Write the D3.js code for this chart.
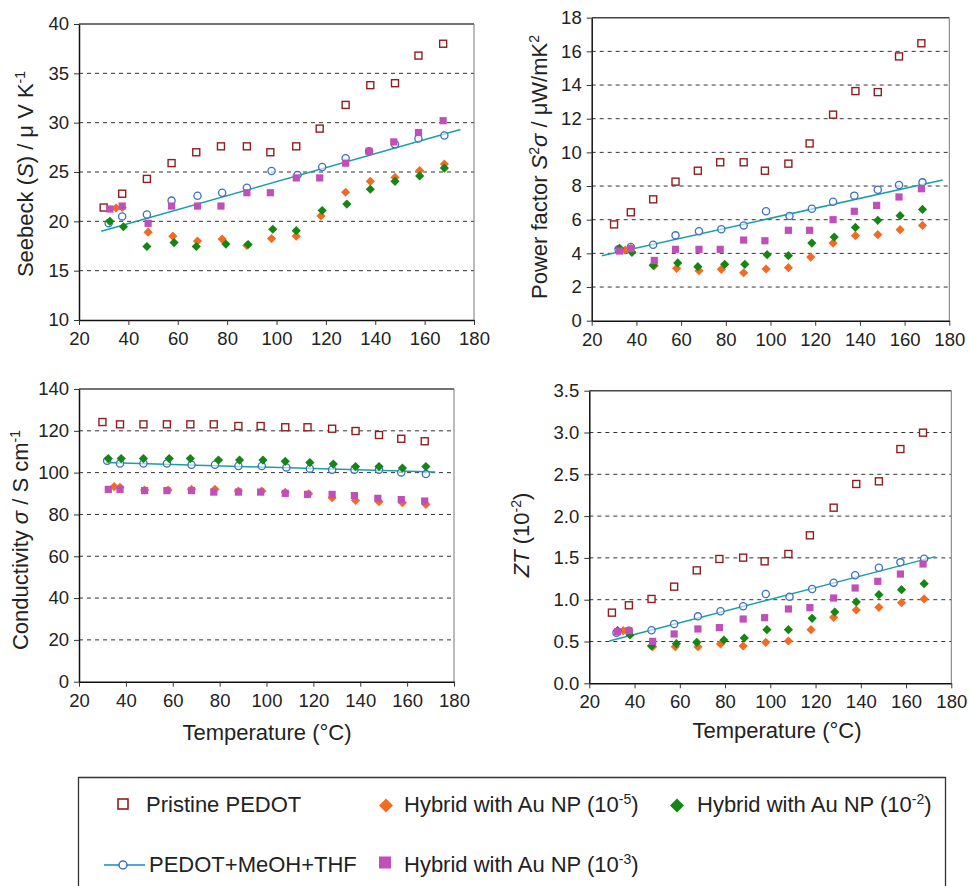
<!DOCTYPE html>
<html>
<head>
<meta charset="utf-8">
<script src="https://cdn.jsdelivr.net/npm/d3@7"></script>
<style>
  body { margin: 0; background: #fff; }
  svg { font-family: "Liberation Sans", Arial, Helvetica, sans-serif; }
</style>
</head>
<body>
<div id="chart"></div>
<script>
// temperatures (°C) for each sample series
var tPristine = [30, 37.5, 47.5, 57.5, 67.5, 77.5, 88, 97.5, 108, 117.5, 128, 138, 148, 157.5, 167.5];
var tMeoh     = [32, 37.5, 47.5, 57.5, 68, 78, 88, 98, 108.5, 118.5, 128, 137.5, 148, 157.5, 168];
var tAu5      = [35, 37.5, 48, 58, 68, 78, 88, 98, 108, 118, 128, 138, 148, 158, 168];
var tAu3      = [32.5, 37.5, 48, 57.5, 68, 77.5, 88, 97.5, 108, 117.5, 128, 137.5, 147.5, 157.5, 167.5];
var tAu2      = [32.5, 38, 47.5, 58.5, 67.5, 79.5, 88.5, 98.5, 108, 118.5, 128.5, 138, 148, 158, 168];

// Seebeck (uV/K)
var sPristine = [21.4, 22.8, 24.3, 25.9, 27.0, 27.6, 27.6, 27.0, 27.6, 29.4, 31.8, 33.8, 34.0, 36.8, 38.0];
var sMeoh     = [19.8, 20.5, 20.7, 22.1, 22.6, 22.9, 23.4, 25.1, 24.7, 25.5, 26.4, 27.1, 27.8, 28.4, 28.7];
var sAu5      = [21.35, 21.4, 18.9, 18.5, 18.0, 18.2, 17.55, 18.25, 18.5, 20.55, 22.95, 24.05, 24.45, 25.15, 25.8];
var sAu3      = [21.25, 21.55, 19.8, 21.55, 21.55, 21.55, 22.9, 22.9, 24.4, 24.4, 25.9, 27.1, 28.05, 29.0, 30.2];
var sAu2      = [20.0, 19.45, 17.45, 17.85, 17.45, 17.7, 17.65, 19.2, 19.05, 21.1, 21.75, 23.25, 24.05, 24.6, 25.4];
var sFitT = [29, 174.5], sFitV = [19.0, 29.3];

// power factor (uW/mK2)
var pPristine = [5.72, 6.44, 7.21, 8.26, 8.91, 9.41, 9.41, 8.91, 9.33, 10.53, 12.24, 13.64, 13.58, 15.70, 16.48];
var pMeoh     = [4.25, 4.38, 4.51, 5.07, 5.31, 5.43, 5.66, 6.50, 6.22, 6.65, 7.07, 7.43, 7.78, 8.06, 8.22];
var pAu5      = [4.2, 4.3, 3.27, 3.11, 2.97, 3.05, 2.85, 3.07, 3.15, 3.78, 4.61, 5.05, 5.11, 5.41, 5.66];
var pAu3      = [4.14, 4.28, 3.58, 4.24, 4.24, 4.24, 4.79, 4.75, 5.37, 5.37, 6.0, 6.50, 6.85, 7.35, 7.84];
var pAu2      = [4.30, 4.06, 3.29, 3.43, 3.21, 3.35, 3.35, 3.92, 3.86, 4.61, 4.97, 5.54, 5.96, 6.24, 6.61];
var pFitT = [24.5, 177], pFitV = [3.86, 8.36];

// conductivity (S/cm)
var cPristine = [124.2, 123.1, 123.1, 123.1, 123.1, 123.1, 122.3, 122.3, 121.7, 121.7, 121.0, 119.9, 118.0, 116.2, 115.0];
var cMeoh     = [105.7, 104.4, 104.4, 104.4, 103.8, 103.8, 103.2, 103.2, 102.5, 101.9, 101.4, 101.4, 101.4, 100.1, 99.3];
var cAu5      = [93.3, 93.0, 91.7, 91.7, 92.0, 92.0, 91.2, 91.2, 90.6, 89.9, 88.0, 86.7, 86.1, 85.6, 84.8];
var cAu3      = [92.0, 92.0, 91.4, 91.4, 91.4, 90.7, 90.7, 90.7, 90.1, 89.6, 89.6, 89.0, 87.7, 87.1, 86.4];
var cAu2      = [106.7, 106.7, 106.7, 106.7, 106.7, 106.0, 106.0, 106.0, 105.4, 104.8, 104.1, 102.9, 102.9, 102.2, 102.9];
var cFitT = [31.5, 172], cFitV = [104.8, 100.3];

// ZT (10^-2)
var zPristine = [0.845, 0.933, 1.009, 1.156, 1.351, 1.487, 1.503, 1.459, 1.547, 1.770, 2.101, 2.384, 2.416, 2.802, 2.998];
var zMeoh     = [0.606, 0.63, 0.634, 0.710, 0.801, 0.861, 0.921, 1.068, 1.036, 1.128, 1.204, 1.292, 1.383, 1.447, 1.491];
var zAu5      = [0.63, 0.626, 0.438, 0.438, 0.438, 0.47, 0.446, 0.49, 0.506, 0.642, 0.789, 0.877, 0.909, 0.965, 1.009];
var zAu3      = [0.618, 0.63, 0.502, 0.59, 0.65, 0.666, 0.769, 0.785, 0.889, 0.905, 1.02, 1.14, 1.22, 1.307, 1.427];
var zAu2      = [0.63, 0.578, 0.446, 0.474, 0.49, 0.518, 0.542, 0.642, 0.642, 0.777, 0.853, 0.973, 1.06, 1.12, 1.192];
var zFitT = [28.8, 173], zFitV = [0.506, 1.515];

var xTicks = [20, 40, 60, 80, 100, 120, 140, 160, 180];
var legendNames = ["Pristine PEDOT", "PEDOT+MeOH+THF", "Hybrid with Au NP (10", "Hybrid with Au NP (10", "Hybrid with Au NP (10"];
var legendExp = ["", "", "-5", "-3", "-2"];

var W = 969, H = 886;
var col = {pristine: "#8e1f1f", meoh: "#3d6fc2", fit: "#1a9fa6", au5: "#f36b22", au3: "#c14fba", au2: "#138613"};

var svg = d3.select("#chart").append("svg").attr("width", W).attr("height", H);

var panels = [
  {x0: 79, x1: 474, y0: 24, y1: 320, dom: [10, 40], ticks: [10, 15, 20, 25, 30, 35, 40], fmt: d3.format("d"),
   data: [sPristine, sMeoh, sAu5, sAu3, sAu2], fitT: sFitT, fitV: sFitV,
   lx: 33, ly: 174, label: [["Seebeck (", ""], ["S", "i"], [") / \u03bc V K", ""], ["-1", "sup"]], xt: false},
  {x0: 591.7, x1: 949.3, y0: 17.7, y1: 320.7, dom: [0, 18], ticks: [0, 2, 4, 6, 8, 10, 12, 14, 16, 18], fmt: d3.format("d"),
   data: [pPristine, pMeoh, pAu5, pAu3, pAu2], fitT: pFitT, fitV: pFitV,
   lx: 547, ly: 167, label: [["Power factor  ", ""], ["S", "i"], ["2", "sup"], ["\u03c3", "i"], [" / \u03bcW/mK", ""], ["2", "sup"]], xt: false},
  {x0: 79, x1: 454, y0: 389, y1: 681.7, dom: [0, 140], ticks: [0, 20, 40, 60, 80, 100, 120, 140], fmt: d3.format("d"),
   data: [cPristine, cMeoh, cAu5, cAu3, cAu2], fitT: cFitT, fitV: cFitV,
   lx: 28, ly: 540, label: [["Conductivity ", ""], ["\u03c3", "i"], [" / S cm", ""], ["-1", "sup"]], xt: true, xtx: 267, xty: 740},
  {x0: 589.3, x1: 951.3, y0: 390.7, y1: 683.3, dom: [0, 3.5], ticks: [0, 0.5, 1, 1.5, 2, 2.5, 3, 3.5], fmt: d3.format(".1f"),
   data: [zPristine, zMeoh, zAu5, zAu3, zAu2], fitT: zFitT, fitV: zFitV,
   lx: 529, ly: 535, label: [["ZT", "i"], [" (10", ""], ["-2", "sup"], [")", ""]], xt: true, xtx: 777, xty: 738}
];

var temps = [tPristine, tMeoh, tAu5, tAu3, tAu2];

function diamond(g, x, y, r, fill) {
  g.append("path").attr("d", "M" + x + "," + (y - r) + "L" + (x + r) + "," + y + "L" + x + "," + (y + r) + "L" + (x - r) + "," + y + "Z")
    .attr("fill", fill);
}

panels.forEach(function(p) {
  var x = d3.scaleLinear().domain([20, 180]).range([p.x0, p.x1]);
  var y = d3.scaleLinear().domain(p.dom).range([p.y1, p.y0]);
  var g = svg.append("g");

  // dashed grid
  g.selectAll(".grid").data(p.ticks.slice(1, -1)).enter().append("line")
    .attr("x1", p.x0).attr("x2", p.x1)
    .attr("y1", function(d){ return y(d); }).attr("y2", function(d){ return y(d); })
    .attr("stroke", "#333").attr("stroke-dasharray", "4,4").attr("stroke-width", 1);
  // frame top/right
  g.append("line").attr("x1", p.x0).attr("x2", p.x1).attr("y1", p.y0).attr("y2", p.y0).attr("stroke", "#444").attr("stroke-width", 1.5);
  g.append("line").attr("x1", p.x1).attr("x2", p.x1).attr("y1", p.y0).attr("y2", p.y1).attr("stroke", "#777").attr("stroke-width", 1);

  var ya = g.append("g").attr("transform", "translate(" + p.x0 + ",0)")
    .call(d3.axisLeft(y).tickValues(p.ticks).tickFormat(p.fmt).tickSize(5).tickPadding(5).tickSizeOuter(0));
  var xa = g.append("g").attr("transform", "translate(0," + p.y1 + ")")
    .call(d3.axisBottom(x).tickValues(xTicks).tickFormat(d3.format("d")).tickSize(5).tickPadding(7).tickSizeOuter(0));
  [ya, xa].forEach(function(a) {
    a.select(".domain").attr("stroke", "#111").attr("stroke-width", 1.5);
    a.selectAll("text").attr("font-size", 18.5).attr("fill", "#222").attr("font-family", null);
    a.selectAll(".tick line").attr("stroke", "#333");
  });

  // y label
  var t = g.append("text").attr("transform", "translate(" + p.lx + "," + p.ly + ") rotate(-90)")
    .attr("text-anchor", "middle").attr("font-size", 22).attr("fill", "#222");
  p.label.forEach(function(s) {
    var ts = t.append("tspan").text(s[0]);
    if (s[1] === "i") ts.attr("font-style", "italic");
    if (s[1] === "sup") { ts.attr("font-size", 14).attr("baseline-shift", "super"); }
  });

  if (p.xt) {
    g.append("text").attr("x", p.xtx).attr("y", p.xty).attr("text-anchor", "middle")
      .attr("font-size", 22).attr("fill", "#222").text("Temperature (\u00b0C)");
  }

  // fit line
  g.append("line").attr("x1", x(p.fitT[0])).attr("x2", x(p.fitT[1]))
    .attr("y1", y(p.fitV[0])).attr("y2", y(p.fitV[1]))
    .attr("stroke", col.fit).attr("stroke-width", 1.5);

  // MeOH circles
  p.data[1].forEach(function(v, i) {
    g.append("circle").attr("cx", x(temps[1][i])).attr("cy", y(v)).attr("r", 3.6)
      .attr("fill", "#fff").attr("fill-opacity", 0.6).attr("stroke", col.meoh).attr("stroke-width", 1.3);
  });
  // pristine squares
  p.data[0].forEach(function(v, i) {
    g.append("rect").attr("x", x(temps[0][i]) - 3.5).attr("y", y(v) - 3.5).attr("width", 7).attr("height", 7)
      .attr("fill", "#fff").attr("stroke", col.pristine).attr("stroke-width", 1.4);
  });
  // Au 10^-5 diamonds
  p.data[2].forEach(function(v, i) { diamond(g, x(temps[2][i]), y(v), 4.6, col.au5); });
  // Au 10^-2 diamonds
  p.data[4].forEach(function(v, i) { diamond(g, x(temps[4][i]), y(v), 4.6, col.au2); });
  // Au 10^-3 squares
  p.data[3].forEach(function(v, i) {
    g.append("rect").attr("x", x(temps[3][i]) - 3.6).attr("y", y(v) - 3.6).attr("width", 7.2).attr("height", 7.2)
      .attr("fill", col.au3);
  });
});

// legend
var lg = svg.append("g");
lg.append("path").attr("d", "M78.5," + H + "V777.5H945.5V" + H).attr("fill", "none").attr("stroke", "#333").attr("stroke-width", 1.3);

var legendPos = [
  {mx: 123, my: 804, tx: 146, ty: 811.5},
  {mx: 123, my: 865, tx: 149, ty: 872},
  {mx: 386, my: 805.5, tx: 404, ty: 812},
  {mx: 385, my: 862.5, tx: 404, ty: 872},
  {mx: 677, my: 805.5, tx: 697, ty: 812}
];
legendPos.forEach(function(lp, i) {
  if (i === 0) {
    lg.append("rect").attr("x", lp.mx - 5).attr("y", lp.my - 5).attr("width", 10).attr("height", 10)
      .attr("fill", "#fff").attr("stroke", col.pristine).attr("stroke-width", 1.6);
  } else if (i === 1) {
    lg.append("line").attr("x1", 104).attr("x2", 145).attr("y1", lp.my).attr("y2", lp.my).attr("stroke", "#4ba6da").attr("stroke-width", 2.2);
    lg.append("circle").attr("cx", lp.mx).attr("cy", lp.my).attr("r", 4).attr("fill", "#fff").attr("stroke", col.meoh).attr("stroke-width", 1.5);
  } else if (i === 3) {
    lg.append("rect").attr("x", lp.mx - 6).attr("y", lp.my - 6).attr("width", 12).attr("height", 12).attr("fill", col.au3);
  } else {
    diamond(lg, lp.mx, lp.my, 7, i === 2 ? col.au5 : col.au2);
  }
  var t = lg.append("text").attr("x", lp.tx).attr("y", lp.ty).attr("font-size", 22).attr("fill", "#222");
  t.append("tspan").text(legendNames[i]);
  if (legendExp[i]) {
    t.append("tspan").attr("font-size", 14).attr("baseline-shift", "super").text(legendExp[i]);
    t.append("tspan").text(")");
  }
});
</script>
</body>
</html>
